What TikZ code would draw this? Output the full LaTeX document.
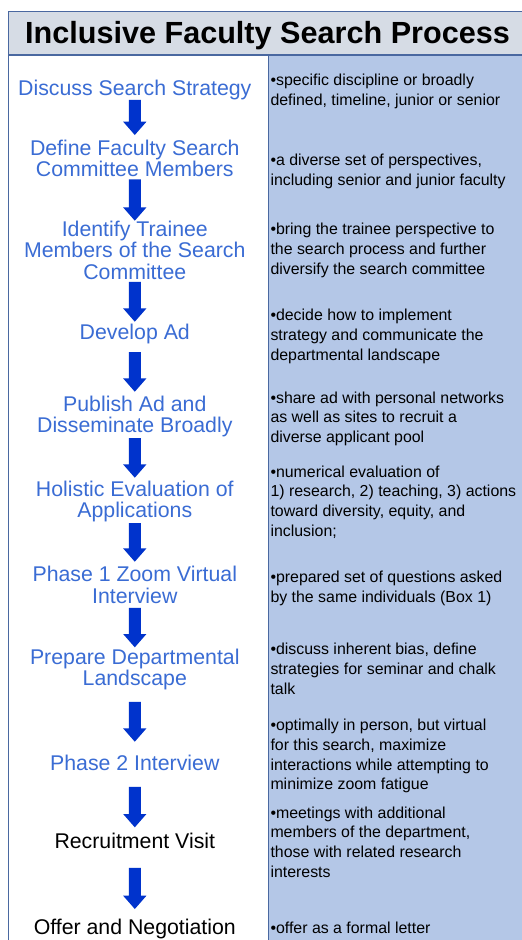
\documentclass[tikz,border=0pt]{standalone}
\usepackage{fontspec}
\setmainfont{Liberation Sans}
\usetikzlibrary{calc}
\definecolor{stepblue}{RGB}{58,108,212}
\definecolor{arrowblue}{RGB}{0,51,204}
\definecolor{colfill}{RGB}{180,199,231}
\definecolor{titlefill}{RGB}{214,220,229}
\definecolor{framecol}{RGB}{74,104,160}
\tikzset{
  steplabel/.style={font=\fontsize{21.3}{21.2}\selectfont, text=stepblue, align=center, inner sep=0pt, anchor=north},
  blacklabel/.style={steplabel, text=black},
  notetext/.style={font=\fontsize{15.9}{19.7}\selectfont, align=left, inner sep=0pt, anchor=north west},
  frameline/.style={draw=framecol, line width=1.3pt},
}
\newcommand\blkarrow[4]{%
  \fill[arrowblue] let \p1=($(#1.south)+(0,#3)$), \p2=($(#2.north)-(0,#4)$) in
   (\x1-6pt,\y1) -- (\x1-6pt,\y2+13.3pt) -- (\x1-11.65pt,\y2+13.3pt) -- (\x1,\y2)
   -- (\x1+11.65pt,\y2+13.3pt) -- (\x1+6pt,\y2+13.3pt) -- (\x1+6pt,\y1) -- cycle;}
\begin{document}
\begin{tikzpicture}[x=1pt,y=-1pt]
\useasboundingbox (0,0) rectangle (522,940);
\fill[white] (0,0) rectangle (522,940);
\fill[titlefill] (8.3,11.7) rectangle (530,55);
\fill[colfill] (268.7,55) rectangle (530,950);
\draw[frameline] (530,11.7) -- (8.3,11.7) -- (8.3,950);
\draw[frameline] (8.3,55) -- (530,55);
\draw[frameline] (268.7,55) -- (268.7,950);

\node[font=\fontsize{30.6}{36}\selectfont\bfseries, anchor=base, inner sep=0pt] (title) at (267.5,43.5) {Inclusive Faculty Search Process};

\node[steplabel] (s1) at (134.8,79.5) {Discuss Search Strategy};
\node[steplabel] (s2) at (134.8,139.5) {Define Faculty Search\\Committee Members};
\node[steplabel] (s3) at (134.8,221.1) {Identify Trainee\\Members of the Search\\Committee};
\node[steplabel] (s4) at (134.8,323.8) {Develop Ad};
\node[steplabel] (s5) at (134.8,396.1) {Publish Ad and\\Disseminate Broadly};
\node[steplabel] (s6) at (134.8,481.1) {Holistic Evaluation of\\Applications};
\node[steplabel] (s7) at (134.8,566.2) {Phase 1 Zoom Virtual\\Interview};
\node[steplabel] (s8) at (134.8,648.5) {Prepare Departmental\\Landscape};
\node[steplabel] (s9) at (134.8,755.2) {Phase 2 Interview};
\node[blacklabel] (s10) at (134.8,832.5) {Recruitment Visit};
\node[blacklabel] (s11) at (134.8,918.5) {Offer and Negotiation};

\blkarrow{s1}{s2}{0}{4.5}
\blkarrow{s2}{s3}{2.7}{0.4}
\blkarrow{s3}{s4}{2.4}{2.1}
\blkarrow{s4}{s5}{8}{4.4}
\blkarrow{s5}{s6}{0.6}{3.4}
\blkarrow{s6}{s7}{0.6}{4.5}
\blkarrow{s7}{s8}{4.3}{1.2}
\blkarrow{s8}{s9}{12}{13.5}
\blkarrow{s9}{s10}{15.7}{5.2}
\blkarrow{s10}{s11}{19.4}{9.5}

\node[notetext] (n1) at (270.3,74.2) {•specific discipline or broadly\\defined, timeline, junior or senior};
\node[notetext] (n2) at (270.3,154.2) {•a diverse set of perspectives,\\including senior and junior faculty};
\node[notetext] (n3) at (270.3,223.2) {•bring the trainee perspective to\\the search process and further\\diversify the search committee};
\node[notetext] (n4) at (270.3,308.9) {•decide how to implement\\strategy and communicate the\\departmental landscape};
\node[notetext] (n5) at (270.3,391.5) {•share ad with personal networks\\as well as sites to recruit a\\diverse applicant pool};
\node[notetext] (n6) at (270.3,465.5) {•numerical evaluation of\\1) research, 2) teaching, 3) actions\\toward diversity, equity, and\\inclusion;};
\node[notetext] (n7) at (270.3,570.9) {•prepared set of questions asked\\by the same individuals (Box 1)};
\node[notetext] (n8) at (270.3,643.2) {•discuss inherent bias, define\\strategies for seminar and chalk\\talk};
\node[notetext] (n9) at (270.3,718.9) {•optimally in person, but virtual\\for this search, maximize\\interactions while attempting to\\minimize zoom fatigue};
\node[notetext] (n10) at (270.3,806.5) {•meetings with additional\\members of the department,\\those with related research\\interests};
\node[notetext] (n11) at (270.3,921.5) {•offer as a formal letter};
\end{tikzpicture}
\end{document}
